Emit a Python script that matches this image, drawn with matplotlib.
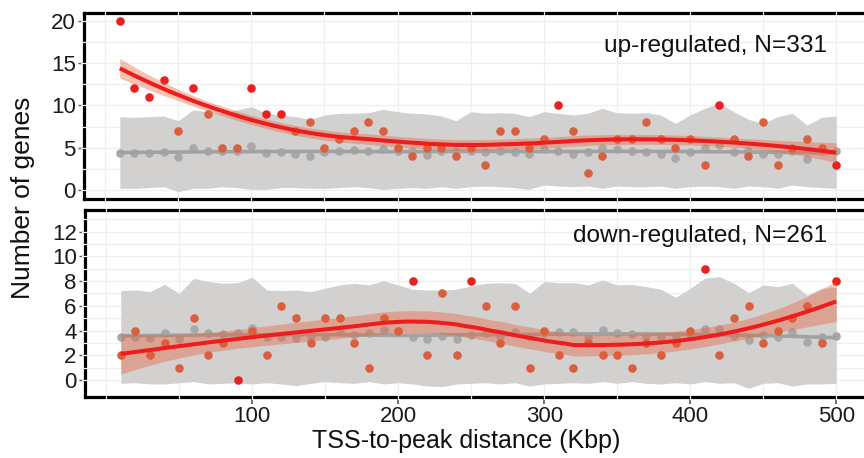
import numpy as np
import matplotlib
matplotlib.use("Agg")
import matplotlib.pyplot as plt
from matplotlib.transforms import blended_transform_factory

plt.rcParams['font.family'] = ['Liberation Sans', 'DejaVu Sans']

# ---------------- data ----------------
dist_kbp = list(range(10, 501, 10))

up_obs = [20, 12, 11, 13, 7, 12, 9, 5, 5, 12, 9, 9, 7, 8, 5, 6, 7, 8, 7, 5,
          4, 5, 5, 4, 5, 3, 7, 7, 5, 6, 10, 7, 2, 4, 6, 6, 8, 6, 5, 6,
          3, 10, 6, 4, 8, 3, 5, 6, 5, 3]
up_sig = [0, 1, 2, 3, 5, 9, 10, 11, 30, 41, 49]
up_rand = [4.4, 4.4, 4.4, 4.5, 3.9, 5.0, 4.6, 4.6, 4.6, 5.2, 4.4, 4.5, 4.3, 4.0, 4.5, 4.6, 4.7, 4.6, 4.9, 4.6,
           4.6, 4.1, 4.6, 4.6, 4.6, 4.5, 4.6, 4.5, 4.2, 4.9, 4.6, 4.3, 4.5, 5.0, 4.8, 4.6, 4.5, 4.2, 3.8, 4.5,
           5.0, 5.3, 4.5, 4.6, 4.2, 4.3, 4.6, 3.7, 4.6, 4.6]
up_rand_hi = [8.66, 8.58, 8.66, 8.74, 8.19, 9.45, 9.25, 9.13, 9.45, 9.84, 9.06, 8.86, 8.66, 8.35, 8.86, 9.06, 9.06, 9.13, 9.53, 9.25,
              9.06, 8.98, 8.74, 8.19, 9.25, 9.06, 9.13, 9.06, 8.66, 9.25, 9.06, 8.86, 9.06, 9.65, 9.13, 9.06, 9.13, 8.86, 7.87, 8.86,
              9.65, 10.24, 9.25, 8.35, 7.87, 8.66, 9.06, 7.68, 8.58, 8.74]
up_rand_lo = [0.20, 0.20, 0.28, 0.39, -0.20, 0.20, 0.20, 0.39, 0.28, 0.08, 0.08, 0.28, 0.28, 0.20, 0.20, 0.28, 0.39, 0.28, 0.08, 0.20,
              0.28, 0.20, 0.39, 0.20, 0.39, 0.47, 0.39, 0.28, 0.08, 0.59, 0.47, 0.39, 0.47, 0.20, 0.47, 0.39, 0.39, 0.47, 0.20, 0.39,
              0.47, 0.39, 0.20, 0.47, 0.39, 0.20, 0.59, 0.39, 0.28, 0.20]

down_obs = [2, 4, 2, 3, 1, 5, 2, 3, 0, 4, 2, 6, 5, 3, 5, 5, 3, 1, 5, 4,
            8, 2, 7, 2, 8, 6, 3, 6, 1, 4, 2, 1, 3, 2, 2, 1, 3, 2, 3, 4,
            9, 2, 5, 6, 3, 4, 5, 6, 3, 8]
down_sig = [8, 20, 24, 40, 49]
down_rand = [3.5, 3.45, 3.4, 3.8, 3.3, 4.1, 3.8, 3.7, 3.8, 4.2, 3.45, 3.45, 3.4, 3.5, 3.45, 3.9, 3.6, 3.8, 4.05, 4.0,
             3.45, 3.3, 3.55, 3.3, 3.6, 3.8, 3.55, 3.9, 3.45, 3.8, 3.9, 3.9, 3.5, 4.05, 3.8, 3.7, 3.55, 3.5, 3.55, 3.6,
             4.1, 4.1, 3.55, 3.2, 3.6, 3.45, 3.9, 3.1, 3.5, 3.55]
down_rand_hi = [7.23, 7.28, 7.15, 7.74, 7.01, 8.23, 7.96, 7.82, 7.87, 8.31, 7.28, 7.23, 7.28, 7.15, 7.42, 7.69, 7.82, 7.69, 8.04, 7.69,
                7.34, 7.28, 7.28, 7.34, 7.61, 7.82, 7.87, 7.82, 7.01, 7.96, 7.87, 7.87, 7.69, 8.09, 7.69, 7.74, 7.55, 7.34, 6.69, 7.42,
                8.23, 8.36, 7.82, 7.07, 7.69, 7.55, 7.82, 6.87, 7.42, 7.50]
down_rand_lo = [-0.27, -0.22, -0.32, -0.32, -0.22, -0.13, -0.32, -0.27, -0.22, -0.32, -0.22, -0.32, -0.46, -0.27, -0.13, -0.22, -0.27, -0.13, -0.32, -0.22,
                -0.32, -0.49, -0.54, -0.32, -0.27, -0.22, -0.32, -0.22, -0.49, -0.32, -0.27, -0.22, -0.27, -0.13, -0.27, -0.13, -0.27, -0.32, -0.22, -0.32,
                -0.13, -0.27, -0.22, -0.67, -0.27, -0.22, -0.49, -0.32, -0.32, -0.27]

panel_labels = ["up-regulated, N=331", "down-regulated, N=261"]
x_ticks = [100, 200, 300, 400, 500]
y_ticks_up = [0, 5, 10, 15, 20]
y_ticks_down = [0, 2, 4, 6, 8, 10, 12]

# ---------------- loess (span 0.75, degree 2) ----------------
def loess_matrix(x, xs, span=0.75):
    x = np.asarray(x, float)
    n = len(x)
    q = int(np.floor(n * span))
    L = np.zeros((len(xs), n))
    for k, x0 in enumerate(xs):
        d = np.abs(x - x0)
        h = np.sort(d)[q - 1]
        w = np.clip(1 - (d / h) ** 3, 0, None) ** 3
        X = np.vstack([np.ones(n), x - x0, (x - x0) ** 2]).T
        XtW = X.T * w
        A = np.linalg.pinv(XtW @ X) @ XtW
        L[k] = A[0]
    return L


def t_quantile(df, z=1.959964):
    return z + (z**3 + z) / (4 * df) + (5 * z**5 + 16 * z**3 + 3 * z) / (96 * df**2)


def smooth(x, y, npts=80, ci_scale=1.0):
    x = np.asarray(x, float)
    y = np.asarray(y, float)
    xs = np.linspace(x.min(), x.max(), npts)
    Lx = loess_matrix(x, x)
    Ls = loess_matrix(x, xs)
    fit = Ls @ y
    res = y - Lx @ y
    M = (np.eye(len(x)) - Lx).T @ (np.eye(len(x)) - Lx)
    d1 = np.trace(M)
    d2 = np.trace(M @ M)
    s = np.sqrt(np.sum(res**2) / d1)
    se = s * np.sqrt(np.sum(Ls**2, axis=1))
    t = t_quantile(d1**2 / d2) * ci_scale
    return xs, fit, fit - t * se, fit + t * se


# ---------------- figure ----------------
W, H = 864, 458
fig = plt.figure(figsize=(W / 100, H / 100), dpi=100)

xlim = (-14.5, 524.5)
ax_right = 872
panels = [
    dict(top=13.3, bottom=199.5, left=84, ylim=(-1.12, 20.87), obs=up_obs, sig=up_sig, rand=up_rand,
         hi=up_rand_hi, lo=up_rand_lo, yt=y_ticks_up, minor=2.5, label=panel_labels[0], ly=46, ci=0.5),
    dict(top=210, bottom=396.7, left=85, ylim=(-1.35, 13.75), obs=down_obs, sig=down_sig, rand=down_rand,
         hi=down_rand_hi, lo=down_rand_lo, yt=y_ticks_down, minor=1, label=panel_labels[1], ly=236, ci=0.8),
]

bright = '#e8201e'
muted = '#d9603f'
gray_fill = '#d2d1d0'
gray_pt = '#a8a8a8'
gray_line = '#a2a2a2'
grid_c = '#efefef'

for k, p in enumerate(panels):
    ax = fig.add_axes([p['left'] / W, 1 - p['bottom'] / H, (ax_right - p['left']) / W, (p['bottom'] - p['top']) / H])
    ax.set_xlim(*xlim)
    ax.set_ylim(*p['ylim'])

    # grid
    vgrid = np.arange(0, 501, 50)
    hgrid = np.arange(0, p['ylim'][1], p['minor'])
    for gx in vgrid:
        ax.axvline(gx, color=grid_c, lw=0.9, zorder=0.5)
    for gy in hgrid:
        ax.axhline(gy, color=grid_c, lw=0.9, zorder=0.5)

    x = np.array(dist_kbp, float)
    obs = np.array(p['obs'], float)
    rand = np.array(p['rand'], float)

    # random expectation band
    ax.fill_between(x, p['lo'], p['hi'], color=gray_fill, lw=0, zorder=1)
    # random points + smooth
    ax.scatter(x, rand, s=38, color=gray_pt, lw=0, zorder=2)
    gxs, gfit, _, _ = smooth(x, rand)
    ax.plot(gxs, gfit, color=gray_line, lw=2.6, zorder=2.5, solid_capstyle='butt')

    # observed points
    sig = np.zeros(len(obs), bool)
    sig[p['sig']] = True
    ax.scatter(x[~sig], obs[~sig], s=38, color=muted, lw=0, zorder=3)
    ax.scatter(x[sig], obs[sig], s=38, color=bright, lw=0, zorder=3)

    # observed smooth with CI
    xs, fit, lo, hi = smooth(x, obs, ci_scale=p['ci'])
    ax.fill_between(xs, lo, hi, color='#ea5a30', alpha=0.38, lw=0, zorder=4)
    ax.plot(xs, fit, color='#ee1c1c', lw=2.9, zorder=5, solid_capstyle='butt')

    # frame
    for side in ['top', 'bottom', 'left']:
        ax.spines[side].set_linewidth(2.3)
        ax.spines[side].set_color('black')
    ax.spines['right'].set_visible(False)

    # small gaps in the frame where grid lines cross it
    tx = blended_transform_factory(ax.transData, ax.transAxes)
    ty = blended_transform_factory(ax.transAxes, ax.transData)
    for gx in vgrid:
        for yy in (0, 1):
            ax.plot([gx, gx], [yy - 0.012, yy + 0.012], transform=tx, color='#f4f4f4', lw=0.9,
                    clip_on=False, zorder=6)
    for gy in hgrid:
        ax.plot([-0.004, 0.004], [gy, gy], transform=ty, color='#f4f4f4', lw=0.9, clip_on=False, zorder=6)

    ax.set_yticks(p['yt'])
    ax.set_yticklabels([str(v) for v in p['yt']])
    ax.tick_params(axis='y', length=4, width=1, color='#555555', labelsize=16, pad=2, labelcolor='#1a1a1a')
    ax.set_xticks(x_ticks)
    if k == 0:
        ax.tick_params(axis='x', length=0, labelbottom=False)
    else:
        ax.set_xticklabels([str(v) for v in x_ticks])
        ax.tick_params(axis='x', length=5, width=1.2, color='#555555', labelsize=16, pad=2, labelcolor='#1a1a1a')

    fig.text(827 / W, 1 - p['ly'] / H, p['label'], ha='right', va='center', fontsize=17.6, color='#111111')

fig.text(23 / W, 1 - 198 / H, 'Number of genes', rotation=90, ha='center', va='center', fontsize=19, color='#111111')
fig.text(466 / W, 1 - 441 / H, 'TSS-to-peak distance (Kbp)', ha='center', va='center', fontsize=18, color='#111111')

fig.savefig('out.png', dpi=100)
